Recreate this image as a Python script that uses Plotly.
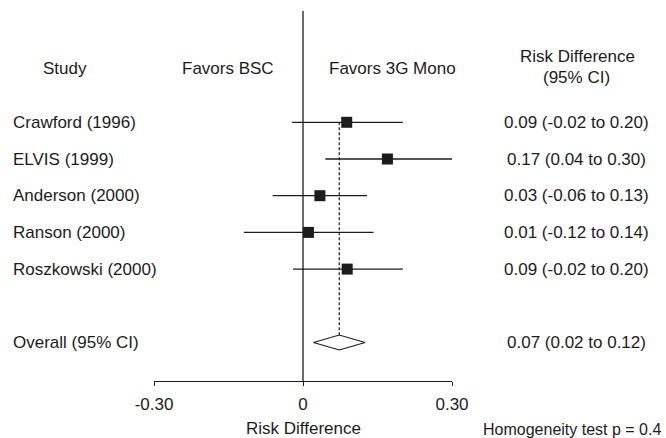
import plotly.graph_objects as go

# ---- data ----
studies = ["Crawford (1996)", "ELVIS (1999)", "Anderson (2000)", "Ranson (2000)", "Roszkowski (2000)"]
est = [0.088, 0.170, 0.034, 0.011, 0.089]
lo = [-0.022, 0.045, -0.061, -0.119, -0.020]
hi = [0.201, 0.300, 0.129, 0.142, 0.201]
ci_labels = ["0.09 (-0.02 to 0.20)", "0.17 (0.04 to 0.30)", "0.03 (-0.06 to 0.13)",
             "0.01 (-0.12 to 0.14)", "0.09 (-0.02 to 0.20)"]
overall_label = "Overall (95% CI)"
overall_est = 0.073
overall_lo = 0.021
overall_hi = 0.125
overall_ci_label = "0.07 (0.02 to 0.12)"
tick_vals = [-0.30, 0, 0.30]
tick_text = ["-0.30", "0", "0.30"]
homogeneity = "Homogeneity test p = 0.4"

# ---- layout helpers (page pixels) ----
W, H = 666, 438
AX_L, AX_R, AX_Y = 154, 452, 381          # axis ends / axis line
ML, MR, MT = AX_L, W - AX_R, 0
MB = H - AX_Y
PW = W - ML - MR
PH = H - MT - MB
ROW0_PX, ROW_STEP = 122.3, 36.7
FONT = "Arial, Liberation Sans, sans-serif"
INK = "#1c1c1c"

def px_x(px):
    return (px - ML) / PW

def px_y(py):
    return (AX_Y - py) / PH

def idx_of_px(py):
    return 1 + (py - ROW0_PX) / ROW_STEP

rows = list(range(1, len(studies) + 1))
overall_row = len(studies) + 2
y_top = idx_of_px(MT)
y_bot = idx_of_px(AX_Y)

fig = go.Figure()

# study estimates with CIs
fig.add_trace(go.Scatter(
    x=est, y=rows, mode="markers",
    marker=dict(symbol="square", size=11, color=INK),
    error_x=dict(type="data", symmetric=False,
                 array=[h - e for h, e in zip(hi, est)],
                 arrayminus=[e - l for e, l in zip(est, lo)],
                 width=0, thickness=1.3, color=INK),
    cliponaxis=False, showlegend=False, hoverinfo="skip"))

# overall diamond
hh = 7.5 / ROW_STEP
fig.add_trace(go.Scatter(
    x=[overall_lo, overall_est, overall_hi, overall_est, overall_lo],
    y=[overall_row, overall_row - hh, overall_row, overall_row + hh, overall_row],
    mode="lines", fill="toself", fillcolor="white",
    line=dict(color=INK, width=1.2),
    cliponaxis=False, showlegend=False, hoverinfo="skip"))

shapes = [
    dict(type="line", xref="x", yref="paper", x0=0, x1=0, y0=0, y1=px_y(11),
         line=dict(color=INK, width=1.3), layer="below"),
    dict(type="line", xref="x", yref="y", x0=overall_est, x1=overall_est,
         y0=rows[0], y1=overall_row, line=dict(color=INK, width=1.2, dash="3px,2px"),
         layer="below"),
]

ann = []
def add_text(text, xpx, ypx, xanchor="center", size=17):
    ann.append(dict(text=text, xref="paper", yref="paper", x=px_x(xpx), y=px_y(ypx),
                    xanchor=xanchor, yanchor="middle", showarrow=False,
                    font=dict(family=FONT, size=size, color=INK)))

add_text("Study", 65, 68)
add_text("Favors BSC", 227.5, 68)
add_text("Favors 3G Mono", 392.5, 68)
add_text("Risk Difference", 577, 56)
add_text("(95% CI)", 576, 77)
for r, s, c in zip(rows, studies, ci_labels):
    ypx = ROW0_PX + (r - 1) * ROW_STEP
    add_text(s, 11, ypx, xanchor="left")
    add_text(c, 576, ypx)
ov_px = ROW0_PX + (overall_row - 1) * ROW_STEP
add_text(overall_label, 11, ov_px, xanchor="left")
add_text(overall_ci_label, 576, ov_px)
add_text("Risk Difference", 303, 428)
add_text(homogeneity, 572, 429.5, size=16)

fig.update_layout(
    width=W, height=H, margin=dict(l=ML, r=MR, t=MT, b=MB),
    paper_bgcolor="white", plot_bgcolor="white",
    shapes=shapes, annotations=ann,
    xaxis=dict(range=[-0.30, 0.30], tickvals=tick_vals, ticktext=tick_text,
               showline=True, linecolor=INK, linewidth=1.3,
               ticks="outside", ticklen=4, tickwidth=1.3, tickcolor=INK,
               showgrid=False, zeroline=False, ticklabelstandoff=3,
               tickfont=dict(family=FONT, size=17, color=INK)),
    yaxis=dict(range=[y_bot, y_top], visible=False, showgrid=False, zeroline=False),
    font=dict(family=FONT, color=INK),
)

fig.write_html("out.html", config={"displayModeBar": False},
               post_script="document.body.style.margin='0';document.body.style.overflow='hidden';")
